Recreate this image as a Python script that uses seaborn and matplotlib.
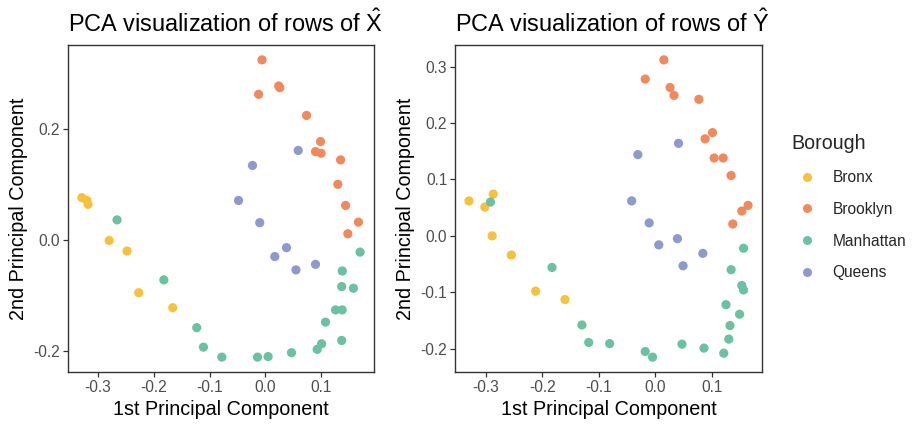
import numpy as np
import pandas as pd
import matplotlib
matplotlib.use("Agg")
import matplotlib.pyplot as plt
import seaborn as sns

# ---------------- data ----------------
borough = (["Bronx"] * 7 + ["Brooklyn"] * 13 + ["Manhattan"] * 18 + ["Queens"] * 8)

# rows of X-hat
x_pc1 = [-0.329, -0.320, -0.318, -0.280, -0.248, -0.227, -0.166,
         -0.006, 0.024, 0.026, -0.012, 0.074, 0.099, 0.090, 0.100, 0.135, 0.130, 0.144, 0.167, 0.148,
         -0.266, -0.182, -0.123, -0.111, -0.078, -0.014, 0.005, 0.047, 0.093, 0.101, 0.137, 0.108,
         0.126, 0.138, 0.137, 0.158, 0.138, 0.170,
         0.059, -0.023, -0.048, -0.010, 0.017, 0.038, 0.055, 0.090]
x_pc2 = [0.076, 0.071, 0.064, -0.001, -0.020, -0.095, -0.122,
         0.324, 0.277, 0.274, 0.262, 0.224, 0.177, 0.159, 0.156, 0.144, 0.100, 0.062, 0.032, 0.011,
         0.036, -0.072, -0.158, -0.193, -0.211, -0.211, -0.210, -0.203, -0.197, -0.187, -0.181, -0.148,
         -0.126, -0.126, -0.084, -0.087, -0.056, -0.022,
         0.161, 0.134, 0.071, 0.031, -0.030, -0.014, -0.054, -0.044]

# rows of Y-hat
y_pc1 = [-0.330, -0.302, -0.287, -0.289, -0.255, -0.212, -0.160,
         0.015, -0.018, 0.026, 0.033, 0.077, 0.101, 0.088, 0.104, 0.120, 0.134, 0.164, 0.153, 0.137,
         -0.292, -0.183, -0.130, -0.118, -0.081, -0.018, -0.005, 0.047, 0.086, 0.121, 0.130, 0.132,
         0.149, 0.125, 0.153, 0.156, 0.134, 0.156,
         0.041, -0.031, -0.042, -0.011, 0.006, 0.039, 0.049, 0.084]
y_pc2 = [0.062, 0.051, 0.074, 0.000, -0.034, -0.098, -0.113,
         0.312, 0.278, 0.263, 0.249, 0.242, 0.183, 0.172, 0.138, 0.138, 0.107, 0.054, 0.044, 0.021,
         0.060, -0.056, -0.158, -0.189, -0.191, -0.205, -0.215, -0.192, -0.199, -0.208, -0.183, -0.159,
         -0.139, -0.122, -0.088, -0.096, -0.060, -0.022,
         0.164, 0.144, 0.062, 0.023, -0.016, -0.005, -0.053, -0.031]

boroughs = ["Bronx", "Brooklyn", "Manhattan", "Queens"]
colors = ["#F6C13E", "#F08A5E", "#6CC1A1", "#8D9BCB"]

x_ticks_left = [-0.3, -0.2, -0.1, 0.0, 0.1]
y_ticks_left = [-0.2, 0.0, 0.2]
x_ticks_right = [-0.3, -0.2, -0.1, 0.0, 0.1]
y_ticks_right = [-0.2, -0.1, 0.0, 0.1, 0.2, 0.3]

# ---------------- style ----------------
sns.set_theme(style="white")
plt.rcParams["font.family"] = ["Liberation Sans", "DejaVu Sans"]
plt.rcParams["mathtext.fontset"] = "custom"
plt.rcParams["mathtext.rm"] = "Liberation Sans"
plt.rcParams["mathtext.it"] = "Liberation Sans:italic"
plt.rcParams["axes.unicode_minus"] = False

palette = dict(zip(boroughs, colors))

dfx = pd.DataFrame({"PC1": x_pc1, "PC2": x_pc2, "Borough": borough})
dfy = pd.DataFrame({"PC1": y_pc1, "PC2": y_pc2, "Borough": borough})

W, H = 913, 425
fig = plt.figure(figsize=(W / 100, H / 100), dpi=100)
ax1 = fig.add_axes([68 / W, 1 - 372 / H, 306 / W, 327 / H])
ax2 = fig.add_axes([455 / W, 1 - 372 / H, 307 / W, 327 / H])


def expand(vals, frac=0.05):
    lo, hi = min(vals), max(vals)
    r = hi - lo
    return lo - frac * r, hi + frac * r


def style(ax, df, xt, yt, title):
    sns.scatterplot(data=df, x="PC1", y="PC2", hue="Borough", hue_order=boroughs,
                    palette=palette, s=44, linewidth=0, ax=ax, legend=(ax is ax2))
    ax.set_xlim(*expand(df["PC1"]))
    ax.set_ylim(*expand(df["PC2"]))
    ax.set_xticks(xt)
    ax.set_yticks(yt)
    ax.set_xticklabels([f"{v:.1f}" for v in xt])
    ax.set_yticklabels([f"{v:.1f}" for v in yt])
    ax.tick_params(axis="both", length=3.5, width=0.9, color="#333333",
                   labelsize=11.2, labelcolor="#4D4D4D", pad=2, bottom=True, left=True)
    for sp in ax.spines.values():
        sp.set_visible(True)
        sp.set_color("#333333")
        sp.set_linewidth(1.0)
    ax.set_xlabel("1st Principal Component", fontsize=14.2, color="black", labelpad=4)
    ax.set_ylabel("2nd Principal Component", fontsize=14.2, color="black", labelpad=4)
    ax.set_title(title, fontsize=16.9, loc="left", pad=9, color="black")
    ax.grid(False)


style(ax1, dfx, x_ticks_left, y_ticks_left, r"PCA visualization of rows of $\hat{\mathrm{X}}$")
style(ax2, dfy, x_ticks_right, y_ticks_right, r"PCA visualization of rows of $\hat{\mathrm{Y}}$")

handles, labels = ax2.get_legend_handles_labels()
ax2.get_legend().remove()
for h in handles:
    try:
        h.set_markersize(6.5)
    except Exception:
        pass
leg = fig.legend(handles, labels, title="Borough", loc="upper left",
                 bbox_to_anchor=(785 / W, 1 - 128 / H), frameon=False,
                 fontsize=11.2, title_fontsize=14.1, labelspacing=1.08,
                 handletextpad=0.6, handlelength=2.05, borderaxespad=0,
                 alignment="left")

fig.savefig("out.png", dpi=100)
